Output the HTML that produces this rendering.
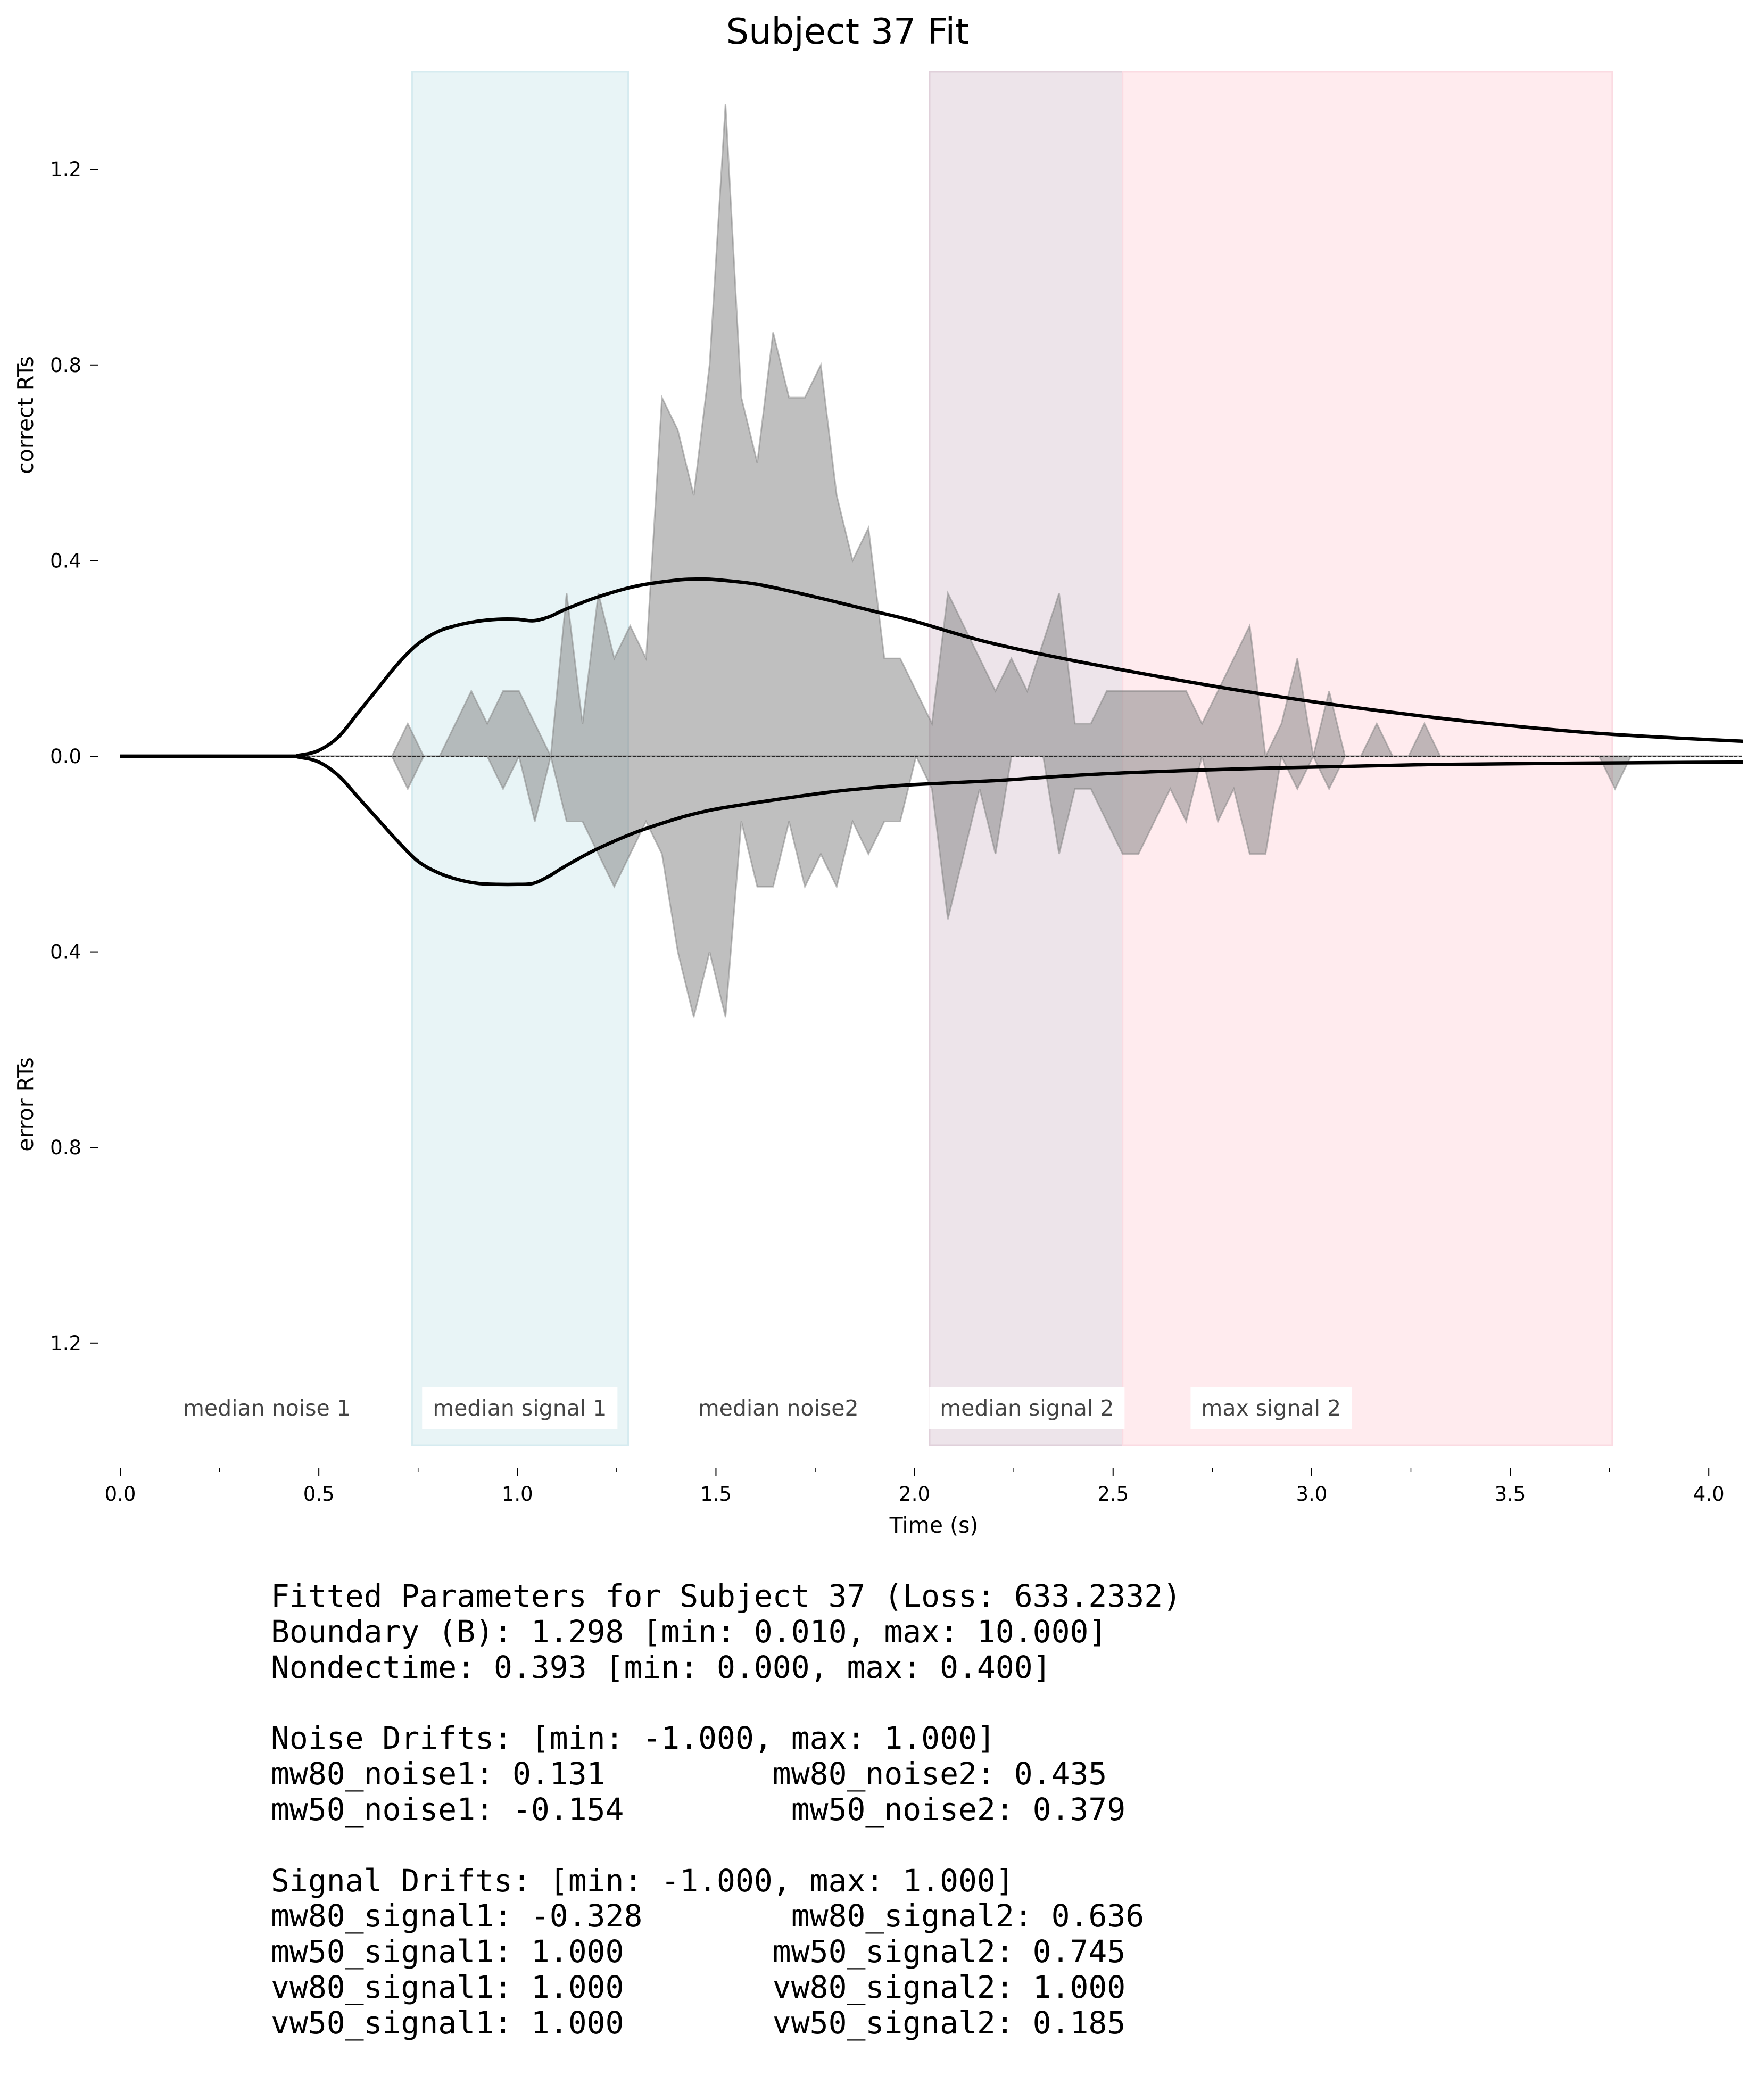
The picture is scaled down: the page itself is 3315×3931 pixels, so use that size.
<!DOCTYPE html>
<html><head><meta charset="utf-8"><style>
html,body{margin:0;padding:0;background:#fff;}
svg{display:block;}
text{font-family:"DejaVu Sans","Liberation Sans",sans-serif;}
.mono{font-family:"DejaVu Sans Mono","Liberation Mono",monospace;font-size:58px;fill:#000;white-space:pre;}
</style></head><body>
<svg id="fig" width="3315" height="3931" viewBox="0 0 3315 3931" xmlns="http://www.w3.org/2000/svg">
<defs><clipPath id="plotclip"><rect x="226" y="100" width="3049" height="2650"/></clipPath></defs>
<text x="1593" y="82" font-size="67" text-anchor="middle">Subject 37 Fit</text>
<g id="spans"></g>
<g id="hist" clip-path="url(#plotclip)"></g>
<line x1="226" x2="3275" y1="1421" y2="1421" stroke="#000" stroke-width="1.5" stroke-dasharray="6,3"/>
<g id="curves" clip-path="url(#plotclip)"></g>
<g id="labels"></g>
<g id="xaxis"></g>
<g id="yaxis"></g>
<text x="1755" y="2880" font-size="41" text-anchor="middle">Time (s)</text>
<text transform="translate(62,780) rotate(-90)" font-size="41" text-anchor="middle">correct RTs</text>
<text transform="translate(62,2075) rotate(-90)" font-size="41" text-anchor="middle">error RTs</text>
<g>
<text class="mono" x="509" y="3019" xml:space="preserve">Fitted Parameters for Subject 37 (Loss: 633.2332)</text>
<text class="mono" x="509" y="3086" xml:space="preserve">Boundary (B): 1.298 [min: 0.010, max: 10.000]</text>
<text class="mono" x="509" y="3153" xml:space="preserve">Nondectime: 0.393 [min: 0.000, max: 0.400]</text>
<text class="mono" x="509" y="3286" xml:space="preserve">Noise Drifts: [min: -1.000, max: 1.000]</text>
<text class="mono" x="509" y="3353" xml:space="preserve">mw80_noise1: 0.131         mw80_noise2: 0.435</text>
<text class="mono" x="509" y="3420" xml:space="preserve">mw50_noise1: -0.154         mw50_noise2: 0.379</text>
<text class="mono" x="509" y="3554" xml:space="preserve">Signal Drifts: [min: -1.000, max: 1.000]</text>
<text class="mono" x="509" y="3620" xml:space="preserve">mw80_signal1: -0.328        mw80_signal2: 0.636</text>
<text class="mono" x="509" y="3687" xml:space="preserve">mw50_signal1: 1.000        mw50_signal2: 0.745</text>
<text class="mono" x="509" y="3754" xml:space="preserve">vw80_signal1: 1.000        vw80_signal2: 1.000</text>
<text class="mono" x="509" y="3821" xml:space="preserve">vw50_signal1: 1.000        vw50_signal2: 0.185</text>
</g>
</svg>
<script>
// ---- data ----
const binStart = 0.004;
const binWidth = 0.04;
const countUnit = 1/15;
const correctCounts = [0,0,0,0,0,0,0,0,0,0,0,0,0,0,0,0,0,
 0,1,0,0,1,2,1,2,2,1,0,5,1,5,3,4,3,11,10,8,12,20,11,9,13,11,11,12,8,6,7,3,3,2,1,5,4,3,2,3,2,3.5,5,1,1,2,2,2,2,2,2,1,2,3,4,0,1,3,0,2,0,0,1,0,0,1,0,
 0,0,0,0,0,0,0,0,0,0,0,0,0,0,0,0,0,0,0];
const errorCounts = [0,0,0,0,0,0,0,0,0,0,0,0,0,0,0,0,0,
 0,1,0,0,0,0,0,1,0,2,0,2,2,3,4,3,2,3,6,8,6,8,2,4,4,2,4,3,4,2,3,2,2,0,1,5,3,1,3,0,0,0,3,1,1,2,3,3,2,1,2,0,2,1,3,3,0,1,0,1,0,
 0,0,0,0,0,0,0,0,0,0,0,0,0,0,0,0,1,0,0,0,0,0,0,0];
const curveTimes = [0,0.4,0.45,0.5,0.55,0.6,0.65,0.7,0.75,0.8,0.85,0.9,0.95,1.0,1.04,1.08,1.12,1.2,1.3,1.4,1.45,1.5,1.6,1.7,1.8,1.9,2.0,2.2,2.5,2.9,3.3,3.7,4.1];
const correctModel = [0,0,0.002,0.012,0.04,0.09,0.14,0.19,0.23,0.255,0.268,0.276,0.28,0.28,0.277,0.285,0.30,0.325,0.348,0.36,0.362,0.361,0.352,0.335,0.316,0.296,0.276,0.23,0.18,0.124,0.08,0.048,0.030];
const errorModel = [0,0,0.002,0.012,0.04,0.085,0.13,0.175,0.215,0.238,0.252,0.26,0.262,0.262,0.26,0.245,0.225,0.19,0.155,0.128,0.117,0.108,0.095,0.083,0.072,0.064,0.058,0.05,0.035,0.024,0.017,0.014,0.012];
const spanStarts = [0.735,2.038,2.524];
const spanEnds = [1.279,2.524,3.757];
const spanNames = ['median-signal-1-span','median-signal-2-span','max-signal-2-span'];
const spanColors = ['#e8f4f6','#ede4ea','#ffebee'];
const spanEdges = ['#d6ebf0','#e0d0da','#fbdbe2'];
const phaseLabels = ['median noise 1','median signal 1','median noise2','median signal 2','max signal 2'];
const phaseLabelTimes = [0.369,1.006,1.657,2.283,2.898];
const phaseLabelBoxed = [false,true,false,true,true];
const xTicks = [0,0.5,1.0,1.5,2.0,2.5,3.0,3.5,4.0];
const xTickLabels = ['0.0','0.5','1.0','1.5','2.0','2.5','3.0','3.5','4.0'];
const xMinorTicks = [0.25,0.75,1.25,1.75,2.25,2.75,3.25,3.75];
const yTicks = [1.2,0.8,0.4,0,-0.4,-0.8,-1.2];
const yTickLabels = ['1.2','0.8','0.4','0.0','0.4','0.8','1.2'];

// ---- axes ----
const NS='http://www.w3.org/2000/svg';
const X = t => 226 + t*746.3;
const Y = v => 1421 - v*919;
function mk(tag, attrs, parent){const e=document.createElementNS(NS,tag);for(const k in attrs)e.setAttribute(k,attrs[k]);parent.appendChild(e);return e;}

const spansG=document.getElementById('spans');
spanStarts.forEach((s,i)=>{
  const r=mk('rect',{x:X(s),y:135,width:X(spanEnds[i])-X(s),height:2581,fill:spanColors[i],stroke:spanEdges[i],'stroke-width':3},spansG);
  
  
});

const histG=document.getElementById('hist');
function histPath(counts,sign){
  let d='M'+X(binStart).toFixed(1)+','+Y(0);
  counts.forEach((c,k)=>{d+=' L'+X(binStart+k*binWidth).toFixed(1)+','+Y(sign*c*countUnit).toFixed(1);});
  d+=' L'+X(binStart+(counts.length-1)*binWidth).toFixed(1)+','+Y(0)+' Z';
  return d;
}
const pc=mk('path',{d:histPath(correctCounts,1),fill:'#808080','fill-opacity':0.5,stroke:'#808080','stroke-opacity':0.5,'stroke-width':3},histG);


const pe=mk('path',{d:histPath(errorCounts,-1),fill:'#808080','fill-opacity':0.5,stroke:'#808080','stroke-opacity':0.5,'stroke-width':3},histG);



const curvesG=document.getElementById('curves');
function smoothPath(ts,vs,sign){
  const p=ts.map((t,i)=>[X(t),Y(sign*vs[i])]);
  let d='M'+p[0][0].toFixed(1)+','+p[0][1].toFixed(1);
  for(let i=0;i<p.length-1;i++){
    const p0=p[Math.max(0,i-1)],p1=p[i],p2=p[i+1],p3=p[Math.min(p.length-1,i+2)];
    const c1=[p1[0]+(p2[0]-p0[0])/6,p1[1]+(p2[1]-p0[1])/6];
    const c2=[p2[0]-(p3[0]-p1[0])/6,p2[1]-(p3[1]-p1[1])/6];
    d+=' C'+c1[0].toFixed(1)+','+c1[1].toFixed(1)+' '+c2[0].toFixed(1)+','+c2[1].toFixed(1)+' '+p2[0].toFixed(1)+','+p2[1].toFixed(1);
  }
  return d;
}
const cu=mk('path',{d:smoothPath(curveTimes,correctModel,1),fill:'none',stroke:'#000','stroke-width':6.5,'stroke-linejoin':'round'},curvesG);


const cl=mk('path',{d:smoothPath(curveTimes,errorModel,-1),fill:'none',stroke:'#000','stroke-width':6.5,'stroke-linejoin':'round'},curvesG);



const labG=document.getElementById('labels');
phaseLabels.forEach((s,i)=>{
  const cx=X(phaseLabelTimes[i]);
  const g=mk('g',{},labG);
  
  
  const t=mk('text',{x:cx,y:2660,'font-size':41,'text-anchor':'middle',fill:'#444'},g);
  t.textContent=s;
  if(phaseLabelBoxed[i]){
    const w=t.getComputedTextLength()+40;
    const r=document.createElementNS(NS,'rect');
    r.setAttribute('x',cx-w/2);r.setAttribute('y',2607);r.setAttribute('width',w);r.setAttribute('height',79);r.setAttribute('fill','#fff');
    g.insertBefore(r,t);
  }
});

const xG=document.getElementById('xaxis');
xTicks.forEach((t,i)=>{
  mk('line',{x1:X(t),x2:X(t),y1:2758,y2:2773,stroke:'#000','stroke-width':2},xG);
  const tx=mk('text',{x:X(t),y:2820,'font-size':37,'text-anchor':'middle'},xG);
  tx.textContent=xTickLabels[i];
  
  
});
xMinorTicks.forEach(t=>{mk('line',{x1:X(t),x2:X(t),y1:2758,y2:2766,stroke:'#000','stroke-width':1.5},xG);});

const yG=document.getElementById('yaxis');
yTicks.forEach((v,i)=>{
  mk('line',{x1:170,x2:184,y1:Y(v),y2:Y(v),stroke:'#000','stroke-width':2},yG);
  const tx=mk('text',{x:153,y:Y(v)+13,'font-size':37,'text-anchor':'end'},yG);
  tx.textContent=yTickLabels[i];
  
  
});
</script>
</body></html>
